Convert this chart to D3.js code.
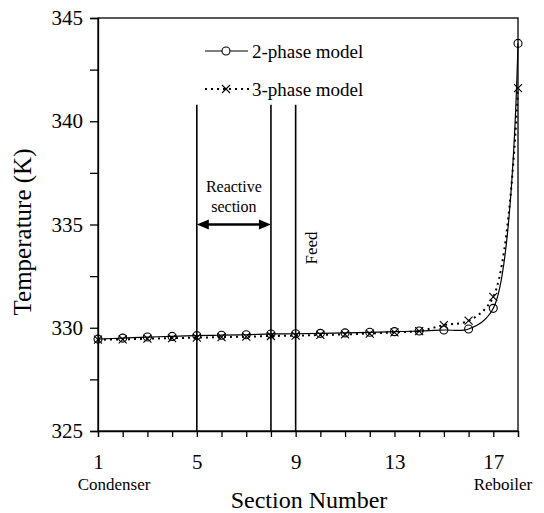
<!DOCTYPE html>
<html>
<head>
<meta charset="utf-8">
<script src="https://cdn.jsdelivr.net/npm/d3@7"></script>
<style>
body { margin:0; background:white; }
text { font-family: "Liberation Serif", "Times New Roman", serif; fill:black; }
</style>
</head>
<body>
<script>

// section numbers 1 (condenser) .. 18 (reboiler)
var sections = [1,2,3,4,5,6,7,8,9,10,11,12,13,14,15,16,17,18]
var twoPhase = [329.45,329.50,329.55,329.58,329.62,329.64,329.66,329.70,329.71,329.73,329.75,329.78,329.81,329.84,329.89,329.94,330.94,343.77]
var threePhase = [329.42,329.44,329.47,329.50,329.52,329.55,329.57,329.60,329.62,329.65,329.68,329.72,329.78,329.84,330.13,330.34,331.50,341.60]

var xTickLabels = [1,5,9,13,17]
var yTickValues = [325,327.5,330,332.5,335,337.5,340,342.5,345]
var yTickLabels = [325,330,335,340,345]

// vertical markers: reactive section start/end and feed
var markerSections = [5,8,9]
var markerTop = 340.8
var reactiveFrom = 5, reactiveTo = 8, reactiveLevel = 335
var feedSection = 9

var serif = "'Liberation Serif', 'Times New Roman', serif"

var svgWidth = 544
var svgHeight = 513

var svg = d3.select("body").append("svg")
            .attr("width", svgWidth)
            .attr("height", svgHeight)

var x = d3.scaleLinear().domain([1,18]).range([98,518])
var y = d3.scaleLinear().domain([325,345]).range([431,18])

// frame
svg.append("rect")
   .attr("x", x(1)).attr("y", y(345))
   .attr("width", x(18)-x(1)).attr("height", y(325)-y(345))
   .style("fill","none").style("stroke","black").style("stroke-width",1.3)

// axes
var yAxis = d3.axisLeft(y)
              .tickValues(yTickValues)
              .tickSize(8).tickPadding(7)
              .tickFormat(function(d){ return yTickLabels.indexOf(d) >= 0 ? d : "" })
var gy = svg.append("g").attr("transform","translate(" + x(1) + ",0)").call(yAxis)

var xAxis = d3.axisBottom(x)
              .tickValues(sections)
              .tickSize(6).tickPadding(17)
              .tickFormat(function(d){ return xTickLabels.indexOf(d) >= 0 ? d : "" })
var gx = svg.append("g").attr("transform","translate(0," + y(325) + ")").call(xAxis)

gy.attr("font-family", serif).attr("font-size", 21)
gx.attr("font-family", serif).attr("font-size", 21)
svg.selectAll(".domain").style("stroke","black").style("stroke-width",1.3)
svg.selectAll(".tick line").style("stroke","black").style("stroke-width",1.3)
svg.selectAll(".tick text").style("font-family", serif).style("font-size","21px").style("fill","black")

// axis titles
svg.append("text")
   .attr("transform","translate(31," + 232 + ") rotate(-90)")
   .attr("text-anchor","middle")
   .style("font-size","25px")
   .text("Temperature (K)")

svg.append("text")
   .attr("x", 309).attr("y", 508)
   .attr("text-anchor","middle")
   .style("font-size","24px")
   .text("Section Number")

svg.append("text")
   .attr("x", 114).attr("y", 490)
   .attr("text-anchor","middle")
   .style("font-size","17px")
   .text("Condenser")

svg.append("text")
   .attr("x", 503).attr("y", 490)
   .attr("text-anchor","middle")
   .style("font-size","17px")
   .text("Reboiler")

// vertical lines
svg.selectAll(".vline")
   .data(markerSections)
   .enter().append("line")
   .attr("class","vline")
   .attr("x1", function(d){ return x(d) }).attr("x2", function(d){ return x(d) })
   .attr("y1", y(markerTop)).attr("y2", y(325))
   .style("stroke","black").style("stroke-width",1.6)

// double arrow for the reactive section
var ax1 = x(reactiveFrom), ax2 = x(reactiveTo), ay = y(reactiveLevel)
var headLen = 12, headW = 5
svg.append("line")
   .attr("x1", ax1 + headLen - 2).attr("x2", ax2 - headLen + 2)
   .attr("y1", ay).attr("y2", ay)
   .style("stroke","black").style("stroke-width",2.6)
svg.append("path")
   .attr("d", "M" + ax1 + "," + ay + "L" + (ax1+headLen) + "," + (ay-headW) + "L" + (ax1+headLen) + "," + (ay+headW) + "Z")
   .style("fill","black")
svg.append("path")
   .attr("d", "M" + ax2 + "," + ay + "L" + (ax2-headLen) + "," + (ay-headW) + "L" + (ax2-headLen) + "," + (ay+headW) + "Z")
   .style("fill","black")

svg.append("text")
   .attr("x", (ax1+ax2)/2).attr("y", ay - 33)
   .attr("text-anchor","middle")
   .style("font-size","16px")
   .text("Reactive")
svg.append("text")
   .attr("x", (ax1+ax2)/2).attr("y", ay - 13)
   .attr("text-anchor","middle")
   .style("font-size","16px")
   .text("section")

svg.append("text")
   .attr("transform","translate(" + (x(feedSection)+21) + "," + 248 + ") rotate(-90)")
   .attr("text-anchor","middle")
   .style("font-size","17px")
   .text("Feed")

// data lines
var twoData = sections.map(function(s,i){ return {s:s, t:twoPhase[i]} })
var threeData = sections.map(function(s,i){ return {s:s, t:threePhase[i]} })

var line = d3.line()
             .x(function(d){ return x(d.s) })
             .y(function(d){ return y(d.t) })
             .curve(d3.curveCatmullRom.alpha(0.5))

svg.append("path").datum(threeData)
   .attr("d", line)
   .style("fill","none").style("stroke","black")
   .style("stroke-width",2).style("stroke-dasharray","2,4")

svg.append("path").datum(twoData)
   .attr("d", line)
   .style("fill","none").style("stroke","black").style("stroke-width",1.2)

function crossPath(cx, cy, r){
	return "M" + (cx-r) + "," + (cy-r) + "L" + (cx+r) + "," + (cy+r) +
	       "M" + (cx-r) + "," + (cy+r) + "L" + (cx+r) + "," + (cy-r)
}

svg.selectAll(".cross")
   .data(threeData)
   .enter().append("path")
   .attr("class","cross")
   .attr("d", function(d){ return crossPath(x(d.s), y(d.t), 4) })
   .style("stroke","black").style("stroke-width",1.1)

svg.selectAll(".circ")
   .data(twoData)
   .enter().append("circle")
   .attr("class","circ")
   .attr("cx", function(d){ return x(d.s) })
   .attr("cy", function(d){ return y(d.t) })
   .attr("r", 4)
   .style("fill","none").style("stroke","black").style("stroke-width",1.1)

// legend
var legend = svg.append("g")
legend.append("line")
      .attr("x1",205).attr("x2",248).attr("y1",51).attr("y2",51)
      .style("stroke","black").style("stroke-width",1.2)
legend.append("circle")
      .attr("cx",226).attr("cy",51).attr("r",4)
      .style("fill","white").style("stroke","black").style("stroke-width",1.1)
legend.append("text")
      .attr("x",252).attr("y",58)
      .style("font-size","19px")
      .text("2-phase model")

legend.append("line")
      .attr("x1",205).attr("x2",250).attr("y1",89).attr("y2",89)
      .style("stroke","black").style("stroke-width",2).style("stroke-dasharray","2,4")
legend.append("path")
      .attr("d", crossPath(226, 89, 4))
      .style("stroke","black").style("stroke-width",1.1)
legend.append("text")
      .attr("x",252).attr("y",96)
      .style("font-size","19px")
      .text("3-phase model")

</script>
</body>
</html>
